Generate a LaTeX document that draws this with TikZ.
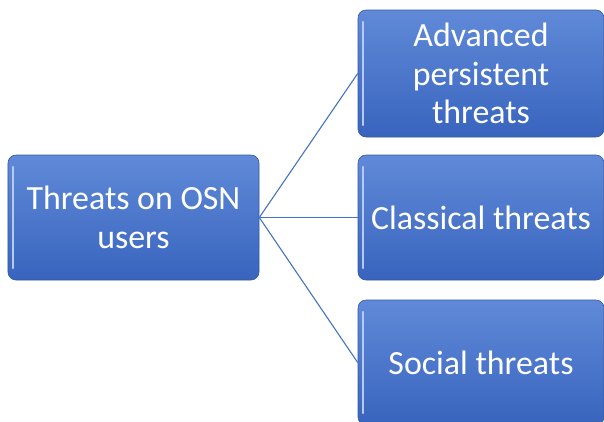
\documentclass[tikz,border=0pt]{standalone}
\usepackage{fontspec}
\setmainfont{Carlito}
\usetikzlibrary{positioning}
\definecolor{boxtop}{RGB}{96,138,216}
\definecolor{boxbot}{RGB}{56,100,190}
\definecolor{boxline}{RGB}{52,88,160}
\definecolor{linkblue}{RGB}{68,114,196}
\tikzset{
  threatbox/.style={rectangle, rounded corners=8bp, draw=boxline, line width=0.6bp,
    top color=boxtop, bottom color=boxbot, text=white, align=center,
    font=\fontsize{34}{38.5}\selectfont, inner sep=0pt,
    path picture={\draw[white!55!boxtop, line width=2.5bp, line cap=round]
      ([xshift=5bp,yshift=-12bp]path picture bounding box.north west) --
      ([xshift=5bp,yshift=12bp]path picture bounding box.south west);}},
  link/.style={draw=linkblue, line width=1.1bp}
}
\begin{document}
\begin{tikzpicture}[x=1bp,y=-1bp]
\useasboundingbox (0,0) rectangle (604,421);
% root
\node[threatbox, minimum width=251bp, minimum height=125bp] (osn) at (133.5,217.5) {Threats on OSN\\users};
% leaves
\node[threatbox, minimum width=246bp, minimum height=127bp] (apt) at (481,73.5) {Advanced\\persistent\\threats};
\node[threatbox, minimum width=246bp, minimum height=125bp] (classic) at (481,217.5) {Classical threats};
\node[threatbox, minimum width=246bp, minimum height=125bp] (social) at (481,362.5) {Social threats};
% links
\draw[link] (osn.east) -- (apt.west);
\draw[link] (osn.east) -- (classic.west);
\draw[link] (osn.east) -- (social.west);
\end{tikzpicture}
\end{document}
